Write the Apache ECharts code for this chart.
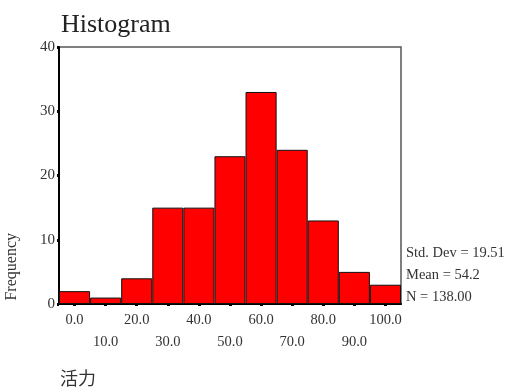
<!DOCTYPE html>
<html>
<head>
<meta charset="utf-8">
<script src="https://cdn.jsdelivr.net/npm/echarts@6/dist/echarts.min.js"></script>
<style>html,body{margin:0;padding:0;background:#fff}#c{width:507px;height:392px}</style>
</head>
<body>
<div id="c"></div>
<script>
var categories = ['0.0','10.0','20.0','30.0','40.0','50.0','60.0','70.0','80.0','90.0','100.0'];
var frequencies = [2, 1, 4, 15, 15, 23, 33, 24, 13, 5, 3];
var yTicks = [0, 10, 20, 30, 40];
var statsLines = ['Std. Dev = 19.51', 'Mean = 54.2', 'N = 138.00'];
var FONT = '"Liberation Serif", "DejaVu Serif", serif';

var chart = echarts.init(document.getElementById('c'), null, {renderer: 'canvas'});
chart.setOption({
  animation: false,
  backgroundColor: '#fff',
  title: {
    text: 'Histogram', left: 56, top: 7,
    textStyle: {fontFamily: FONT, fontSize: 26, fontWeight: 'normal', color: '#222'}
  },
  grid: {left: 59, right: 106, top: 47, bottom: 88, show: true, borderColor: '#555', borderWidth: 1.5, backgroundColor: 'transparent'},
  xAxis: {
    type: 'category', data: categories,
    axisLine: {lineStyle: {color: '#000', width: 2}},
    axisTick: {show: true, alignWithLabel: true, length: 2, lineStyle: {color: '#000', width: 3}},
    axisLabel: {
      interval: 0, margin: 5,
      fontFamily: FONT, fontSize: 14.5, color: '#333', lineHeight: 22,
      formatter: function (v, i) { return i % 2 ? '\n' + v : v; }
    },
    splitLine: {show: false}
  },
  yAxis: {
    type: 'value', min: yTicks[0], max: yTicks[yTicks.length - 1], interval: 10,
    axisLine: {show: true, lineStyle: {color: '#000', width: 2}},
    axisTick: {show: true, length: 2, lineStyle: {color: '#000', width: 3}},
    axisLabel: {margin: 4, fontFamily: FONT, fontSize: 15, color: '#333'},
    splitLine: {show: false}
  },
  series: [{
    type: 'bar', data: frequencies, barCategoryGap: '0%',
    itemStyle: {color: '#ff0000', borderColor: '#111', borderWidth: 1}
  }],
  graphic: [
    {type: 'text', left: 4, top: 233, rotation: Math.PI / 2,
      style: {text: 'Frequency', font: '16px ' + FONT, fill: '#333'}},
    {type: 'text', left: 60, top: 369,
      style: {text: '活力', font: '18px "Noto Sans CJK TC", "Noto Sans CJK SC", sans-serif', fill: '#333'}},
    {type: 'text', left: 406, top: 242,
      style: {text: statsLines.join('\n'), font: '14.5px ' + FONT, fill: '#333', lineHeight: 22}}
  ]
});
</script>
</body>
</html>
